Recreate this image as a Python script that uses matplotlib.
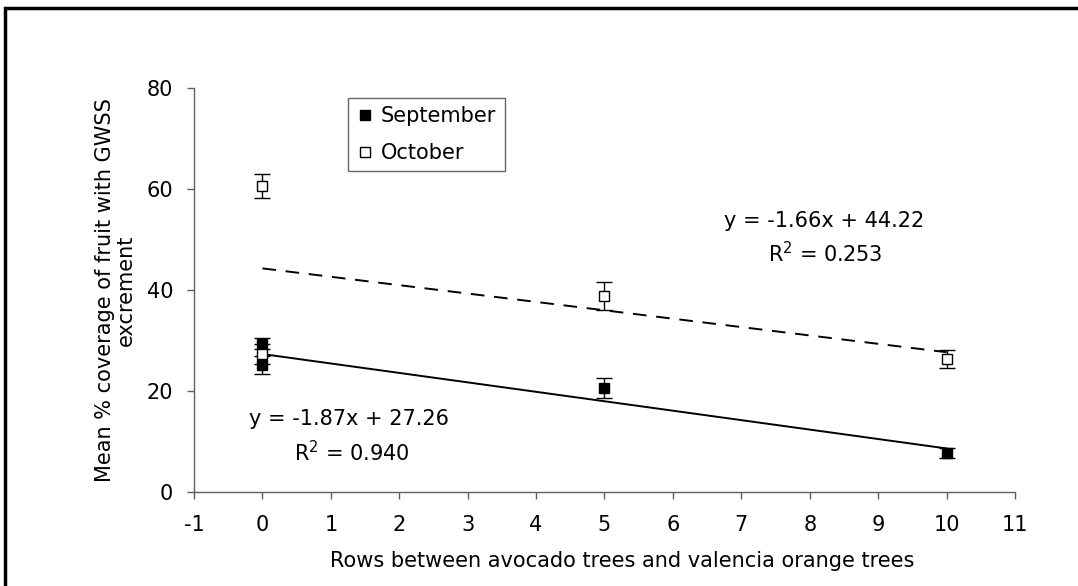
import matplotlib.pyplot as plt
from matplotlib.lines import Line2D
from matplotlib.patches import Rectangle

plt.rcParams['font.family'] = ['DejaVu Sans']
plt.rcParams['axes.unicode_minus'] = False

# Data
sep_x = [0, 0, 5, 10]
sep_y = [29.3, 25.1, 20.5, 7.7]
sep_err = [1.1, 1.7, 2.0, 1.0]

oct_x = [0, 0, 5, 10]
oct_y = [60.5, 27.2, 38.8, 26.3]
oct_err = [2.4, 2.0, 2.8, 1.8]

# fitted lines given on the chart
sep_fit = (-1.87, 27.26)
oct_fit = (-1.66, 44.22)
fit_x = [0, 10]

x_ticks = list(range(-1, 12))
y_ticks = [0, 20, 40, 60, 80]

W, H = 1078, 586
FS = 15

fig = plt.figure(figsize=(W / 100, H / 100), dpi=100)
ax = fig.add_axes([194 / W, 1 - 491.7 / H, (1015 - 194) / W, (491.7 - 87.7) / H])

# outer frame, clipped at right and bottom like the reference
fig.patches.append(Rectangle((5 / W, -0.1), 1.2, 1 - 8 / H + 0.1,
                             transform=fig.transFigure, fill=False,
                             edgecolor='black', linewidth=2.5))

ax.errorbar(sep_x, sep_y, yerr=sep_err, fmt='s', color='black', ms=7.2,
            mfc='black', mec='black', capsize=5.5, elinewidth=1, capthick=1,
            zorder=3)
ax.errorbar(oct_x, oct_y, yerr=oct_err, fmt='s', color='black', ms=7.2,
            mfc='white', mec='black', mew=1, capsize=5.5, elinewidth=1,
            capthick=1, zorder=3)

ax.plot(fit_x, [sep_fit[0] * v + sep_fit[1] for v in fit_x],
        color='black', linewidth=1.4)
ax.plot(fit_x, [oct_fit[0] * v + oct_fit[1] for v in fit_x],
        color='black', linewidth=1.4, linestyle=(0, (7, 5)))

ax.text(-0.2, 13.2, 'y = -1.87x + 27.26', fontsize=FS)
ax.text(0.46, 6.1, 'R$^2$ = 0.940', fontsize=FS)
ax.text(6.74, 52.4, 'y = -1.66x + 44.22', fontsize=FS)
ax.text(7.39, 45.5, 'R$^2$ = 0.253', fontsize=FS)

ax.set_xlim(-1, 11)
ax.set_ylim(0, 80)
ax.set_xticks(x_ticks)
ax.set_yticks(y_ticks)
ax.tick_params(direction='out', length=5, width=1, color='#606060',
               labelsize=FS)
ax.tick_params(axis='x', pad=12)
ax.tick_params(axis='y', pad=10)

for side in ['top', 'right']:
    ax.spines[side].set_visible(False)
for side in ['left', 'bottom']:
    ax.spines[side].set_color('#606060')
    ax.spines[side].set_linewidth(1)

fig.text(622 / W, 1 - 567 / H,
         'Rows between avocado trees and valencia orange trees',
         fontsize=FS, ha='center', va='baseline')
fig.text(115 / W, 1 - 290 / H,
         'Mean % coverage of fruit with GWSS\nexcrement',
         fontsize=FS, ha='center', va='center', rotation=90,
         multialignment='center', linespacing=1.05)

handles = [
    Line2D([], [], marker='s', linestyle='none', color='black',
           mfc='black', ms=7.2),
    Line2D([], [], marker='s', linestyle='none', color='black',
           mfc='white', mew=1, ms=7.2),
]
leg = ax.legend(handles, ['September', 'October'], loc='upper left',
                bbox_to_anchor=(348 / W, 1 - 98 / H),
                bbox_transform=fig.transFigure, borderaxespad=0,
                fontsize=FS, frameon=True, fancybox=False,
                handlelength=0.85, handletextpad=0.33, borderpad=0.4,
                labelspacing=0.8)
leg.get_frame().set_edgecolor('#404040')
leg.get_frame().set_linewidth(1)

fig.savefig('out.png', dpi=100, facecolor='white')
